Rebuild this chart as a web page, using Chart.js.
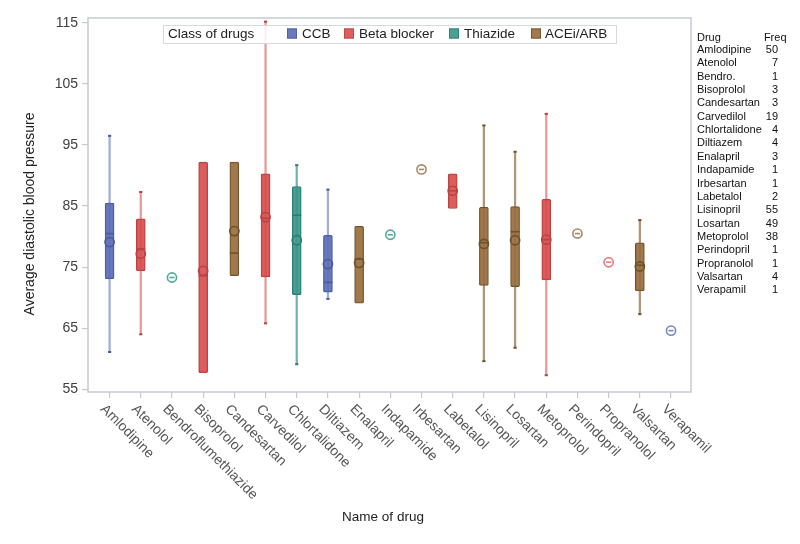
<!DOCTYPE html>
<html><head><meta charset="utf-8">
<script src="https://cdn.jsdelivr.net/npm/chart.js@4.4.1/dist/chart.umd.min.js"></script>
<style>html,body{margin:0;padding:0;background:#fff;}canvas{display:block;}</style>
</head><body>
<canvas id="c" width="800" height="544"></canvas>
<script>
// ---- data ----
const drugs = ['Amlodipine','Atenolol','Bendroflumethiazide','Bisoprolol','Candesartan','Carvedilol','Chlortalidone','Diltiazem','Enalapril','Indapamide','Irbesartan','Labetalol','Lisinopril','Losartan','Metoprolol','Perindopril','Propranolol','Valsartan','Verapamil'];
const drugClass = ['CCB','Beta blocker','Thiazide','Beta blocker','ACEi/ARB','Beta blocker','Thiazide','CCB','ACEi/ARB','Thiazide','ACEi/ARB','Beta blocker','ACEi/ARB','ACEi/ARB','Beta blocker','ACEi/ARB','Beta blocker','ACEi/ARB','CCB'];
const whiskerLow  = [61.1, 64.0, null, null, null, 65.8, 59.1, 69.8, null, null, null, null, 59.6, 61.8, 57.3, null, null, 67.3, null];
const q1          = [73.1, 74.4, null, 57.7, 73.6, 73.4, 70.5, 70.9, 69.1, null, null, 84.6, 72.0, 71.8, 72.9, null, null, 71.1, null];
const median      = [80.5, 78.0, 73.3, 73.6, 77.3, 83.0, 83.5, 72.5, 76.3, 80.3, 91.0, 87.5, 79.0, 80.8, 79.5, 80.5, 75.8, 75.3, 64.6];
const mean        = [79.1, 77.2, 73.3, 74.4, 80.9, 83.2, 79.4, 75.5, 75.7, 80.3, 91.0, 87.5, 78.8, 79.4, 79.5, 80.5, 75.8, 75.1, 64.6];
const q3          = [85.5, 82.9, null, 92.2, 92.2, 90.3, 88.2, 80.2, 81.7, null, null, 90.3, 84.8, 84.9, 86.1, null, null, 79.0, null];
const whiskerHigh = [96.5, 87.3, null, null, null, 115.2, 91.7, 87.7, null, null, null, null, 98.2, 93.9, 100.1, null, null, 82.7, null];
const classes = ['CCB','Beta blocker','Thiazide','ACEi/ARB'];
const tableDrugs = ['Amlodipine','Atenolol','Bendro.','Bisoprolol','Candesartan','Carvedilol','Chlortalidone','Diltiazem','Enalapril','Indapamide','Irbesartan','Labetalol','Lisinopril','Losartan','Metoprolol','Perindopril','Propranolol','Valsartan','Verapamil'];
const tableFreq = [50,7,1,3,3,19,4,4,3,1,1,2,55,49,38,1,1,4,1];
const yTickValues = [55,65,75,85,95,105,115];

// ---- styles ----
const STY = {
  'CCB':          {fill:'rgba(90,108,180,0.9)',  border:'#4b5b9e', whisk:'rgba(100,118,190,0.6)', light:'rgba(95,112,185,0.85)'},
  'Beta blocker': {fill:'rgba(215,75,75,0.9)',   border:'#b94343', whisk:'rgba(215,85,85,0.6)',  light:'rgba(225,105,105,0.85)'},
  'Thiazide':     {fill:'rgba(55,150,136,0.9)',  border:'#2d7c70', whisk:'rgba(55,150,136,0.7)', light:'rgba(65,160,146,0.9)'},
  'ACEi/ARB':     {fill:'rgba(152,110,62,0.92)', border:'#6f512c', whisk:'rgba(140,106,66,0.7)', light:'rgba(150,115,75,0.85)'}
};
const idx = drugs.map((d,i)=>i);
const isSingle = i => q1[i] == null;

const whiskData = idx.filter(i=>whiskerLow[i]!=null).map(i=>({x:i, y:[whiskerLow[i], whiskerHigh[i]]}));
const boxData = idx.filter(i=>q1[i]!=null).map(i=>({x:i, y:[q1[i], q3[i]]}));
const capData = [];
idx.filter(i=>whiskerLow[i]!=null).forEach(i=>{capData.push({x:i,y:whiskerLow[i],c:drugClass[i]});capData.push({x:i,y:whiskerHigh[i],c:drugClass[i]});});
const medData = idx.map(i=>({x:i, y:median[i]}));
const meanData = idx.map(i=>({x:i, y:mean[i]}));

const FONT = "'Liberation Sans', Arial, sans-serif";

const decor = {
  id:'decor',
  beforeDatasetsDraw(chart){
    const {ctx, chartArea:a} = chart;
    ctx.save();
    ctx.strokeStyle = '#c6cacf'; ctx.lineWidth = 1.5;
    ctx.strokeRect(a.left, a.top, a.right-a.left, a.bottom-a.top);
    ctx.restore();
  },
  afterDatasetsDraw(chart){
    const {ctx} = chart;
    ctx.save();
    // legend
    ctx.fillStyle = 'rgba(255,255,255,0.85)';
    ctx.fillRect(163, 25, 453, 18.5);
    ctx.strokeStyle = '#d6d9dd'; ctx.lineWidth = 1;
    ctx.strokeRect(163.5, 25.5, 453, 18);
    ctx.font = '13.5px ' + FONT; ctx.fillStyle = '#222'; ctx.textBaseline = 'middle'; ctx.textAlign = 'left';
    ctx.fillText('Class of drugs', 168, 34.5);
    const sx = [287, 344, 449, 531], tx = [302, 359, 464, 545];
    classes.forEach((c,k)=>{
      ctx.fillStyle = STY[c].fill; ctx.fillRect(sx[k], 28.5, 10, 10);
      ctx.strokeStyle = STY[c].border; ctx.lineWidth = 0.8; ctx.strokeRect(sx[k]+0.4, 28.9, 9.2, 9.2);
      ctx.fillStyle = '#222'; ctx.fillText(c, tx[k], 34.5);
    });
    ctx.restore();
  },
  afterDraw(chart){
    const {ctx} = chart;
    const xs = chart.scales.x;
    ctx.save();
    // x labels rotated
    ctx.font = '14px ' + FONT; ctx.fillStyle = '#555'; ctx.textAlign = 'left'; ctx.textBaseline = 'middle';
    drugs.forEach((d,i)=>{
      const px = xs.getPixelForValue(i);
      ctx.save(); ctx.translate(px-7, 407); ctx.rotate(Math.PI/4); ctx.fillText(d, 0, 0); ctx.restore();
    });
    // titles
    ctx.fillStyle = '#222'; ctx.font = '13.5px ' + FONT; ctx.textAlign = 'center';
    ctx.fillText('Name of drug', 383, 517);
    ctx.save(); ctx.translate(30, 214); ctx.rotate(-Math.PI/2); ctx.font = '14px ' + FONT; ctx.fillText('Average diastolic blood pressure', 0, 0); ctx.restore();
    // table
    ctx.font = '11px ' + FONT; ctx.fillStyle = '#111'; ctx.textBaseline = 'middle';
    ctx.textAlign = 'left'; ctx.fillText('Drug', 697, 37.5);
    ctx.textAlign = 'right'; ctx.fillText('Freq', 786.5, 37.5);
    tableDrugs.forEach((d,k)=>{
      const y = 50 + k*13.35;
      ctx.textAlign = 'left'; ctx.fillText(d, 697, y);
      ctx.textAlign = 'right'; ctx.fillText(String(tableFreq[k]), 778, y);
    });
    ctx.restore();
  }
};

new Chart(document.getElementById('c'), {
  type:'bar',
  data:{ datasets:[
    {type:'bar', data:whiskData, grouped:false, barThickness:1.6, order:5,
     backgroundColor: c=> c.raw ? STY[drugClass[c.raw.x]].whisk : 'transparent', borderWidth:0},
    {type:'bar', data:boxData, grouped:false, barThickness:9, order:4, borderSkipped:false, borderRadius:1.5,
     backgroundColor: c=> c.raw ? STY[drugClass[c.raw.x]].fill : 'transparent',
     borderColor: c=> c.raw ? STY[drugClass[c.raw.x]].border : 'transparent', borderWidth:1},
    {type:'scatter', data:capData, order:3, pointStyle:'line', pointRadius:1.6, pointBorderWidth:2,
     pointBorderColor: c=> c.raw ? STY[c.raw.c].border : 'transparent'},
    {type:'scatter', data:medData, order:2, pointStyle:'line',
     pointRadius: c=> isSingle(c.dataIndex) ? 2.6 : 4.5, pointBorderWidth:1.6,
     pointBorderColor: c=> isSingle(c.dataIndex) ? STY[drugClass[c.dataIndex]].light : STY[drugClass[c.dataIndex]].border},
    {type:'scatter', data:meanData, order:1, pointStyle:'circle', pointRadius:4.6, pointBorderWidth:1.6,
     pointBackgroundColor:'transparent',
     pointBorderColor: c=> isSingle(c.dataIndex) ? STY[drugClass[c.dataIndex]].light : STY[drugClass[c.dataIndex]].border}
  ]},
  options:{
    responsive:false, animation:false, devicePixelRatio:1,
    layout:{padding:{left:0, top:18, right:109, bottom:0}},
    plugins:{legend:{display:false}, tooltip:{enabled:false}},
    scales:{
      x:{type:'linear', min:-0.692, max:18.64, offset:false,
         grid:{offset:false, drawOnChartArea:false, drawTicks:true, tickLength:6, color:'#c6cacf', lineWidth:1.2},
         border:{display:false},
         ticks:{callback:()=> '', autoSkip:false},
         afterBuildTicks: s=>{ s.ticks = drugs.map((d,i)=>({value:i})); },
         afterFit: s=>{ s.height = 152; }},
      y:{type:'linear', min:54.55, max:115.8,
         grid:{drawOnChartArea:false, drawTicks:true, tickLength:6, color:'#c6cacf', lineWidth:1.2},
         border:{display:false},
         ticks:{color:'#404040', font:{family:FONT, size:14}, padding:4},
         afterBuildTicks: s=>{ s.ticks = yTickValues.map(v=>({value:v})); },
         afterFit: s=>{ s.width = 88; }}
    }
  },
  plugins:[decor]
});
</script>
</body></html>
